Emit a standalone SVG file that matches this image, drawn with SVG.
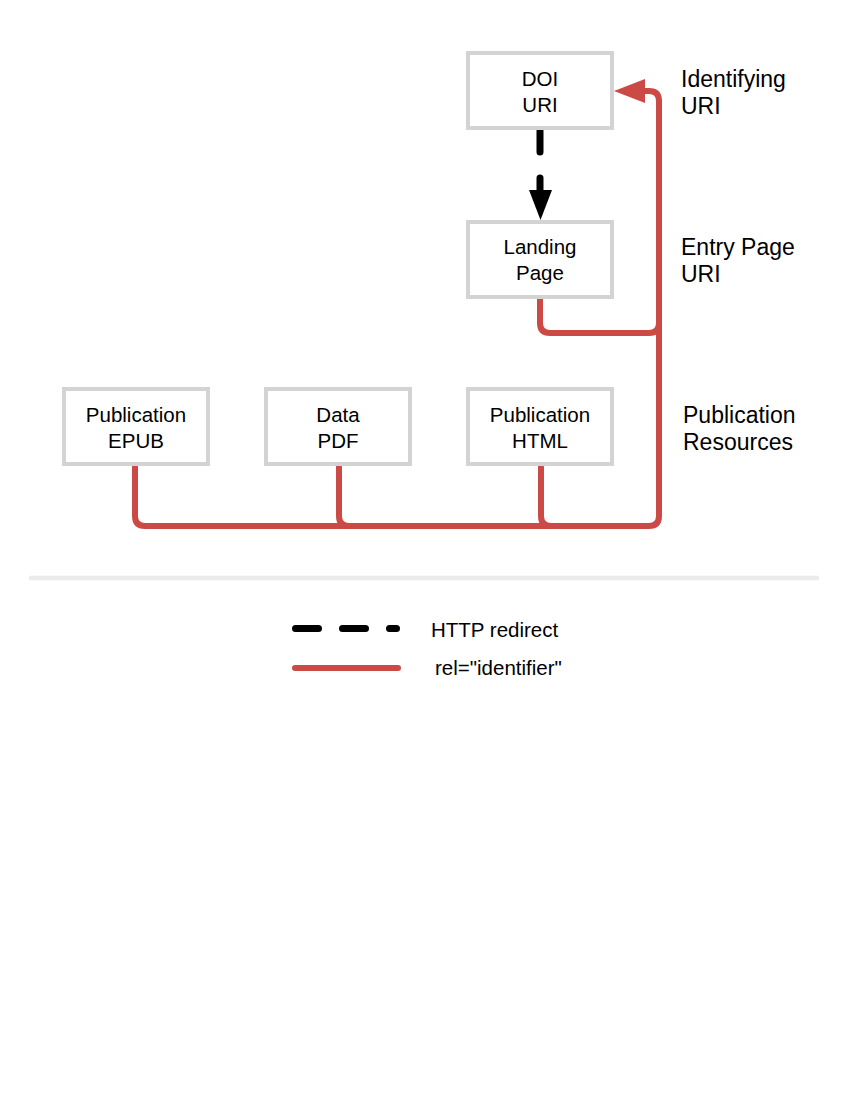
<svg xmlns="http://www.w3.org/2000/svg" width="864" height="1099" viewBox="0 0 864 1099">
<style>
.box{fill:#fff;stroke:#d3d3d3;stroke-width:4}
.bt{font-family:"Liberation Sans",Arial,sans-serif;font-size:20.5px;fill:#000;text-anchor:middle}
.lbl{font-family:"Liberation Sans",Arial,sans-serif;font-size:23px;fill:#000}
.lg{font-family:"Liberation Sans",Arial,sans-serif;font-size:20.5px;fill:#000}
.red{fill:none;stroke:#cb4a46;stroke-width:6;stroke-linecap:round;stroke-linejoin:round}
.dash{fill:none;stroke:#000;stroke-width:7;stroke-linecap:round}
</style>
<rect width="864" height="1099" fill="#fff"/>
<g id="connectors">
<path class="red" d="M645,91 H649 Q659,91 659,101 V516 Q659,526 649,526 H145 Q135,526 135,516 V467"/>
<path class="red" d="M339,467 V516 Q339,526 349,526"/>
<path class="red" d="M541,467 V516 Q541,526 551,526"/>
<path class="red" d="M540,299 V323 Q540,333 550,333 H649 Q659,333 659,323"/>
<polygon points="614,91 645,79 645,103" fill="#cb4a46"/>
<path class="dash" d="M540,131 V152"/>
<path class="dash" d="M540,178 V192"/>
<polygon points="529,190 552,190 540.5,220" fill="#000"/>
</g>
<g id="doi"><rect class="box" x="468" y="53" width="144" height="75"/><text class="bt" x="540" y="86">DOI</text><text class="bt" x="540" y="112">URI</text></g>
<g id="landing"><rect class="box" x="468" y="222" width="144" height="75"/><text class="bt" x="540" y="254">Landing</text><text class="bt" x="540" y="280">Page</text></g>
<g id="epub"><rect class="box" x="64" y="389" width="144" height="75"/><text class="bt" x="136" y="422">Publication</text><text class="bt" x="136" y="448">EPUB</text></g>
<g id="pdf"><rect class="box" x="266" y="389" width="144" height="75"/><text class="bt" x="338" y="422">Data</text><text class="bt" x="338" y="448">PDF</text></g>
<g id="html"><rect class="box" x="468" y="389" width="144" height="75"/><text class="bt" x="540" y="422">Publication</text><text class="bt" x="540" y="448">HTML</text></g>
<g id="labels">
<text class="lbl" x="681" y="87">Identifying</text><text class="lbl" x="681" y="114">URI</text>
<text class="lbl" x="681" y="255">Entry Page</text><text class="lbl" x="681" y="282">URI</text>
<text class="lbl" x="683" y="423">Publication</text><text class="lbl" x="683" y="450">Resources</text>
</g>
<line x1="31" y1="578" x2="817" y2="578" stroke="#ebebeb" stroke-width="4.5" stroke-linecap="round"/>
<g id="legend">
<line x1="295.5" y1="628.5" x2="396.5" y2="628.5" stroke="#000" stroke-width="7" stroke-linecap="round" stroke-dasharray="23 24"/>
<text class="lg" x="431" y="637">HTTP redirect</text>
<line x1="295" y1="668" x2="398" y2="668" stroke="#cb4a46" stroke-width="6" stroke-linecap="round"/>
<text class="lg" x="435" y="675">rel="identifier"</text>
</g>
</svg>
